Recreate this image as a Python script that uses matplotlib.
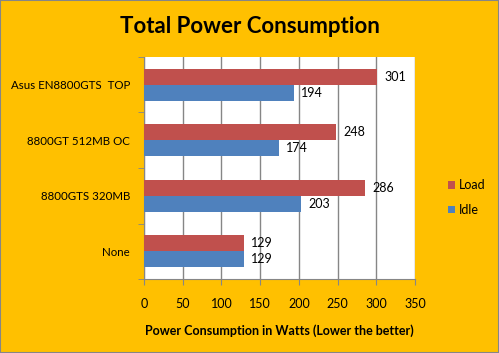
import matplotlib.pyplot as plt
import numpy as np

categories = ["None", "8800GTS 320MB", "8800GT 512MB OC", "Asus EN8800GTS  TOP"]
load = [129, 286, 248, 301]
idle = [129, 203, 174, 194]
xticks = [0, 50, 100, 150, 200, 250, 300, 350]

BG = "#FFC000"
RED = "#C0504D"
BLUE = "#4F81BD"
GRID = "#868686"

plt.rcParams['font.family'] = ['Lato', 'DejaVu Sans']

fig = plt.figure(figsize=(4.99, 3.53), dpi=100, facecolor=BG)
ax = fig.add_axes([0.2886, 0.2096, 0.5431, 0.629])
ax.set_facecolor("white")

y = np.arange(len(categories))
h = 0.29
bl = ax.barh(y + h / 2, load, height=h, color=RED, label="Load", zorder=3)
bi = ax.barh(y - h / 2, idle, height=h, color=BLUE, label="Idle", zorder=3)

for rect, v in zip(bl, load):
    ax.annotate(str(v), (v, rect.get_y() + rect.get_height() / 2), xytext=(5, 0),
                textcoords="offset points", va="center", ha="left", fontsize=9)
for rect, v in zip(bi, idle):
    ax.annotate(str(v), (v, rect.get_y() + rect.get_height() / 2), xytext=(5, 0),
                textcoords="offset points", va="center", ha="left", fontsize=9)

ax.set_xlim(0, 350)
ax.set_ylim(-0.5, len(categories) - 0.5)
ax.set_xticks(xticks)
ax.set_xticklabels([str(t) for t in xticks], fontsize=9)
ax.xaxis.grid(True, color=GRID, linewidth=1, zorder=0)
ax.tick_params(axis="x", direction="out", length=4, color=GRID, pad=10)

ax.set_yticks(y)
ax.set_yticklabels(categories, fontsize=8.3)
ax.tick_params(axis="y", length=0, pad=10)
ax.set_yticks(np.arange(-0.5, len(categories), 1.0), minor=True)
ax.tick_params(axis="y", which="minor", length=4, color=GRID, direction="out")

for s in ["top", "right"]:
    ax.spines[s].set_visible(False)
ax.spines["left"].set_color(GRID)
ax.spines["bottom"].set_color(GRID)

ax.set_xlabel("Power Consumption in Watts (Lower the better)", fontsize=9,
              fontweight="bold", labelpad=10)

fig.text(0.5, 0.925, "Total Power Consumption", ha="center", va="center",
         fontsize=16, fontweight="bold")

handles, labels = ax.get_legend_handles_labels()
leg = fig.legend(handles, labels, loc="center left", bbox_to_anchor=(0.875, 0.44),
                 frameon=False, fontsize=9, handlelength=0.6, handleheight=0.6,
                 handletextpad=0.3, labelspacing=1.0)

fig.patches.append(plt.Rectangle((0, 0), 1, 1, transform=fig.transFigure,
                                 fill=False, edgecolor="#868686", linewidth=1.5))

fig.savefig("out.png", dpi=100, facecolor=BG)
